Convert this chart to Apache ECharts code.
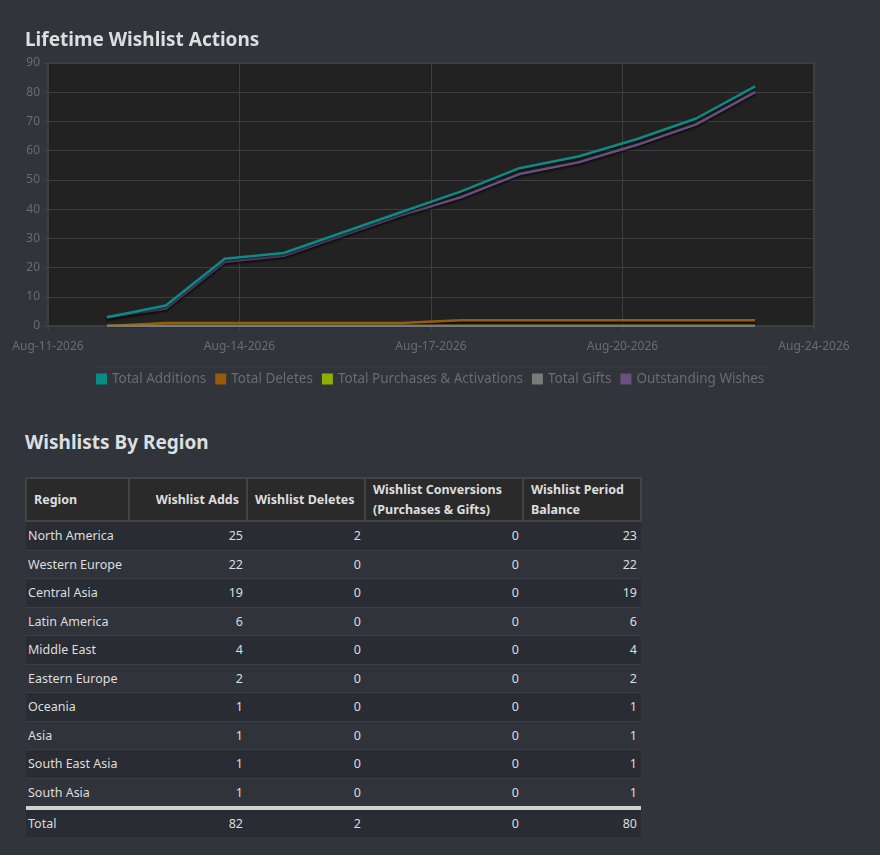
<!DOCTYPE html>
<html>
<head>
<meta charset="utf-8">
<script src="https://cdn.jsdelivr.net/npm/echarts@6/dist/echarts.min.js"></script>
<style>
    html, body { margin: 0; padding: 0; background: #31343b; width: 880px; height: 855px; overflow: hidden; }
    body { font-family: "Noto Sans", "DejaVu Sans", sans-serif; position: relative; }
    #chart { position: absolute; left: 0; top: 0; width: 880px; height: 410px; }
    h2 { position: absolute; left: 25px; top: 429px; margin: 0; color: #dcdedf; font-size: 19px; font-weight: bold; }
    table { position: absolute; left: 25px; top: 477px; border-collapse: collapse; width: 615px; table-layout: fixed; color: #dcdedf; font-size: 12.5px; }
    th { background: #2a2a2a; border: 2px solid #444; font-size: 12.5px; text-align: left; padding: 0 7px; height: 41px; line-height: 20px; white-space: nowrap; }
    th.num { text-align: right; }
    td { height: 27.5px; padding: 0 4px 0 2px; border-bottom: 1px solid #3c3f46; white-space: nowrap; }
    td.num { text-align: right; }
    tbody tr:nth-child(odd) td { background: #292c33; }
    tbody tr:nth-child(even) td { background: #30333a; }
    tfoot td { background: #292c33; border-top: 4px solid #d0d0d0; border-bottom: none; height: 27px; }
</style>
</head>
<body>
<div id="chart"></div>
<h2>Wishlists By Region</h2>
<table id="regionTable"></table>
<script>
    // days of August 2026 with data, axis starts at Aug-11
    var axisStartDay = 11;
    var days = [12, 13, 14, 15, 16, 17, 18, 19, 20, 21, 22, 23];
    var tickLabels = ['Aug-11-2026', 'Aug-14-2026', 'Aug-17-2026', 'Aug-20-2026', 'Aug-24-2026'];

    var seriesNames = ['Total Additions', 'Total Deletes', 'Total Purchases & Activations', 'Total Gifts', 'Outstanding Wishes'];
    var totalAdditions = [3, 7, 23, 25, 32, 39, 46, 54, 58, 64, 71, 82];
    var totalDeletes = [0, 1, 1, 1, 1, 1, 2, 2, 2, 2, 2, 2];
    var totalPurchases = [0, 0, 0, 0, 0, 0, 0, 0, 0, 0, 0, 0];
    var totalGifts = [0, 0, 0, 0, 0, 0, 0, 0, 0, 0, 0, 0];
    var outstandingWishes = [3, 6, 22, 24, 31, 38, 44, 52, 56, 62, 69, 80];
    var seriesColors = ['#0a8c86', '#9a5a0a', '#8fb000', '#7a7a7a', '#6a5080'];

    // 地区表格数据
    var regions = ['North America', 'Western Europe', 'Central Asia', 'Latin America', 'Middle East',
        'Eastern Europe', 'Oceania', 'Asia', 'South East Asia', 'South Asia'];
    var regionAdds = [25, 22, 19, 6, 4, 2, 1, 1, 1, 1];
    var regionDeletes = [2, 0, 0, 0, 0, 0, 0, 0, 0, 0];
    var regionConversions = [0, 0, 0, 0, 0, 0, 0, 0, 0, 0];
    var regionBalance = [23, 22, 19, 6, 4, 2, 1, 1, 1, 1];
    var tableHeaders = ['Region', 'Wishlist Adds', 'Wishlist Deletes', 'Wishlist Conversions<br>(Purchases &amp; Gifts)', 'Wishlist Period<br>Balance'];
    var columnWidths = [103, 118, 118, 158, 118];

    function toPoints(values) {
        var pts = [];
        for (var i = 0; i < values.length; i++) {
            pts.push([days[i] - axisStartDay, values[i]]);
        }
        return pts;
    }

    var allValues = [totalAdditions, totalDeletes, totalPurchases, totalGifts, outstandingWishes];
    var series = [];
    for (var s = 0; s < seriesNames.length; s++) {
        series.push({
            name: seriesNames[s],
            type: 'line',
            data: toPoints(allValues[s]),
            symbol: 'none',
            lineStyle: { width: 2.5, color: seriesColors[s], shadowColor: 'rgba(0,0,0,0.6)', shadowBlur: 2, shadowOffsetY: 2 },
            itemStyle: { color: seriesColors[s] },
            z: s === 0 ? 5 : 3,
            animation: false
        });
    }

    var chart = echarts.init(document.getElementById('chart'));
    var axisSpan = 13;
    chart.setOption({
        backgroundColor: '#31343b',
        textStyle: { fontFamily: 'Noto Sans' },
        title: {
            text: 'Lifetime Wishlist Actions',
            left: 20, top: 26,
            textStyle: { color: '#dcdedf', fontSize: 19, fontWeight: 'bold' }
        },
        grid: { left: 48, top: 63, width: 766, height: 263, show: true, backgroundColor: '#222222', borderColor: '#3e3e3e', borderWidth: 2 },
        legend: {
            top: 367, left: 91,
            itemWidth: 11, itemHeight: 11, itemGap: 9,
            icon: 'rect',
            textStyle: { color: '#6c6c6c', fontSize: 13.5 },
            data: seriesNames
        },
        xAxis: {
            type: 'value', min: 0, max: axisSpan, interval: axisSpan / 4,
            axisLine: { show: false },
            axisTick: { show: true, length: 4, lineStyle: { color: '#444' } },
            splitLine: { show: true, lineStyle: { color: '#3e3e3e' } },
            axisLabel: {
                color: '#6c6c6c', fontSize: 12, margin: 15,
                formatter: function (v) {
                    return tickLabels[Math.round(v / (axisSpan / 4))];
                }
            }
        },
        yAxis: {
            type: 'value', min: 0, max: 90, interval: 10,
            axisLine: { show: false },
            axisTick: { show: true, length: 4, lineStyle: { color: '#444' } },
            splitLine: { show: true, lineStyle: { color: '#3e3e3e' } },
            axisLabel: { color: '#6c6c6c', fontSize: 12, margin: 8 }
        },
        graphic: [{
            type: 'line', shape: { x1: 94, y1: 367, x2: 770, y2: 367 },
            style: { stroke: '#3b3e45', lineWidth: 1 }
        }],
        series: series
    });

    // 构建地区表格
    var html = '<colgroup>';
    for (var c = 0; c < columnWidths.length; c++) {
        html += '<col style="width:' + columnWidths[c] + 'px">';
    }
    html += '</colgroup><thead><tr>';
    for (var h = 0; h < tableHeaders.length; h++) {
        html += '<th' + (h === 1 ? ' class="num"' : '') + '>' + tableHeaders[h] + '</th>';
    }
    html += '</tr></thead><tbody>';
    var sumAdds = 0, sumDel = 0, sumConv = 0, sumBal = 0;
    for (var r = 0; r < regions.length; r++) {
        html += '<tr><td>' + regions[r] + '</td><td class="num">' + regionAdds[r] + '</td><td class="num">' + regionDeletes[r] +
            '</td><td class="num">' + regionConversions[r] + '</td><td class="num">' + regionBalance[r] + '</td></tr>';
        sumAdds += regionAdds[r]; sumDel += regionDeletes[r]; sumConv += regionConversions[r]; sumBal += regionBalance[r];
    }
    html += '</tbody><tfoot><tr><td>Total</td><td class="num">' + sumAdds + '</td><td class="num">' + sumDel +
        '</td><td class="num">' + sumConv + '</td><td class="num">' + sumBal + '</td></tr></tfoot>';
    document.getElementById('regionTable').innerHTML = html;
</script>
</body>
</html>
